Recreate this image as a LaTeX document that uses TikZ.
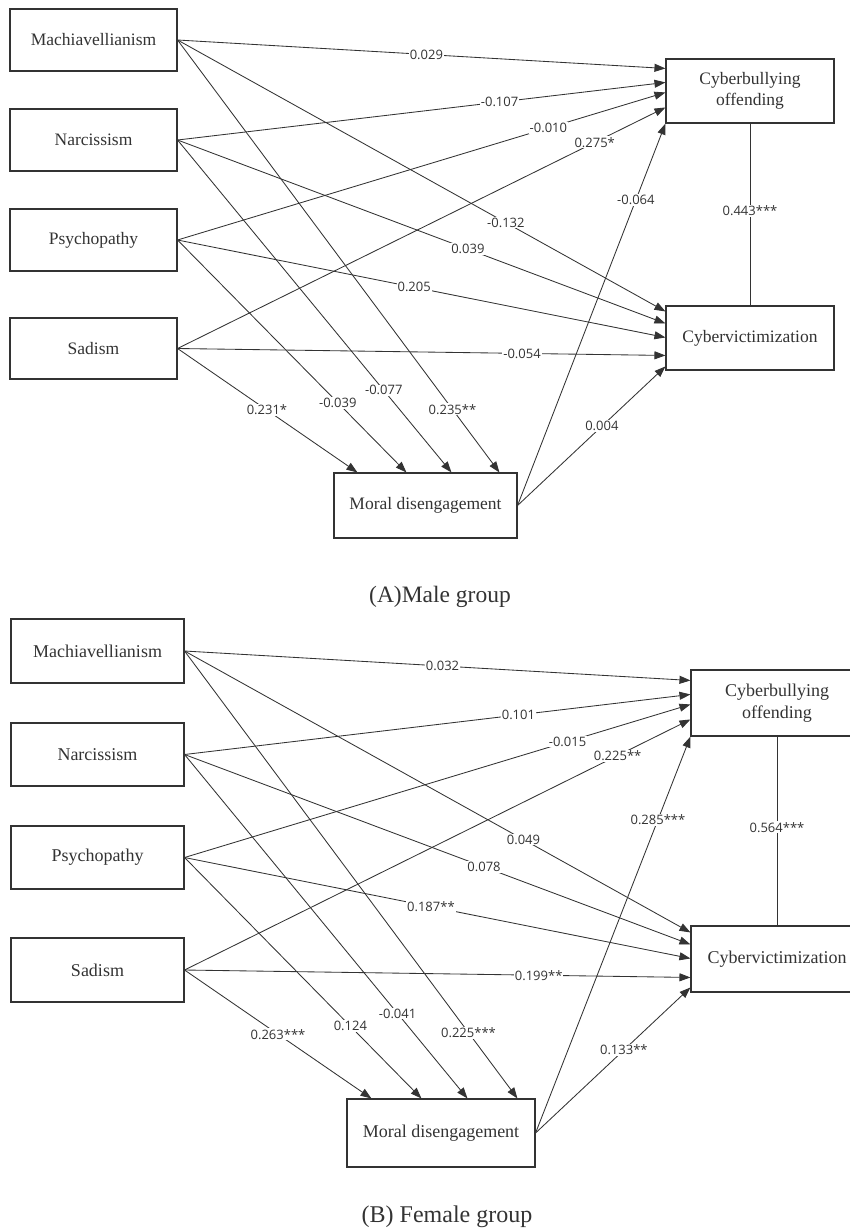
\documentclass[tikz,border=0pt]{standalone}
\usepackage{fontspec}
\setmainfont{Liberation Serif}
\newfontfamily\lblfont{Open Sans}
\usetikzlibrary{arrows.meta,calc}
\definecolor{ink}{HTML}{333333}
\tikzset{
  box/.style={draw=ink,line width=1.1pt,inner sep=0pt,text=ink,align=center},
  boxA/.style={box,minimum width=167pt,minimum height=62pt,font=\fontsize{17.5}{21}\selectfont},
  boxB/.style={box,minimum width=173pt,minimum height=64pt,font=\fontsize{18}{21.7}\selectfont},
  arr/.style={draw=ink,line width=0.85pt,-{Triangle[length=11pt,width=8pt]}},
  plain/.style={draw=ink,line width=0.85pt},
  lbl/.style={fill=white,inner sep=1pt,text=ink,font=\lblfont\fontsize{13}{15}\selectfont},
  captext/.style={text=ink,font=\fontsize{23.5}{28}\selectfont,anchor=base}
}
\begin{document}
\begin{tikzpicture}[x=1pt,y=-1pt]
\useasboundingbox (0,0) rectangle (850,1229);
\clip (0,0) rectangle (850,1229);

% ---------------- (A) Male group ----------------
\node[boxA] (mA) at (93.5,40) {Machiavellianism};
\node[boxA] (nA) at (93.5,140) {Narcissism};
\node[boxA] (pA) at (93.5,240) {Psychopathy};
\node[boxA,minimum height=61pt] (sA) at (93.5,348.5) {Sadism};
\node[boxA,minimum width=183pt,minimum height=65pt] (mdA) at (425.5,505.5) {Moral disengagement};
\node[boxA,minimum width=168pt,minimum height=64pt] (coA) at (750,91) {Cyberbullying\\offending};
\node[boxA,minimum width=168pt,minimum height=64pt] (cvA) at (750,338) {Cybervictimization};

\coordinate (coA1) at ($(coA.north west)+(0,10)$);
\coordinate (coA2) at ($(coA.north west)+(0,24)$);
\coordinate (coA3) at ($(coA.north west)+(0,34)$);
\coordinate (coA4) at ($(coA.north west)+(0,49)$);
\coordinate (coA5) at (coA.south west);
\coordinate (cvA1) at ($(cvA.north west)+(0,6)$);
\coordinate (cvA2) at ($(cvA.north west)+(0,18)$);
\coordinate (cvA3) at ($(cvA.north west)+(0,32)$);
\coordinate (cvA4) at ($(cvA.north west)+(0,50)$);
\coordinate (cvA5) at ($(cvA.north west)+(0,61)$);
\coordinate (mdA1) at ($(mdA.north west)+(24,0)$);
\coordinate (mdA2) at ($(mdA.north west)+(73,0)$);
\coordinate (mdA3) at ($(mdA.north west)+(118,0)$);
\coordinate (mdA4) at ($(mdA.north west)+(166,0)$);

\newcommand\edgesA{mA/coA1/0.51/0.029, nA/coA2/0.66/-0.107, pA/coA3/0.76/-0.010, sA/coA4/0.855/0.275*,
  mdA/coA5/0.80/-0.064,
  mA/cvA1/0.673/-0.132, nA/cvA2/0.595/0.039, pA/cvA3/0.485/0.205, sA/cvA4/0.706/-0.054,
  mdA/cvA5/0.57/0.004,
  sA/mdA1/0.497/0.231*, pA/mdA2/0.70/-0.039, nA/mdA3/0.753/-0.077, mA/mdA4/0.854/0.235**}

\foreach \s/\t/\p/\l in \edgesA { \draw[arr] (\s.east) -- (\t); }
\draw[plain] (coA.south) -- (cvA.north);
\foreach \s/\t/\p/\l in \edgesA { \path (\s.east) -- node[lbl,pos=\p] {\l} (\t); }
\path (coA.south) -- node[lbl,pos=0.48] {0.443***} (cvA.north);

\node[captext] (capA) at (440,602) {(A)Male group};

% ---------------- (B) Female group ----------------
\node[boxB] (mB) at (97.5,651) {Machiavellianism};
\node[boxB,minimum height=63pt] (nB) at (97.5,754.5) {Narcissism};
\node[boxB,minimum height=63pt] (pB) at (97.5,857.5) {Psychopathy};
\node[boxB] (sB) at (97.5,970) {Sadism};
\node[boxB,minimum width=188pt,minimum height=68pt] (mdB) at (441,1133) {Moral disengagement};
\node[boxB,minimum width=172pt,minimum height=66pt] (coB) at (777,703) {Cyberbullying\\offending};
\node[boxB,minimum width=172pt,minimum height=66pt] (cvB) at (777,959) {Cybervictimization};

\coordinate (coB1) at ($(coB.north west)+(0,11)$);
\coordinate (coB2) at ($(coB.north west)+(0,25)$);
\coordinate (coB3) at ($(coB.north west)+(0,35)$);
\coordinate (coB4) at ($(coB.north west)+(0,50)$);
\coordinate (coB5) at (coB.south west);
\coordinate (cvB1) at ($(cvB.north west)+(0,7)$);
\coordinate (cvB2) at ($(cvB.north west)+(0,19)$);
\coordinate (cvB3) at ($(cvB.north west)+(0,33)$);
\coordinate (cvB4) at ($(cvB.north west)+(0,52)$);
\coordinate (cvB5) at ($(cvB.north west)+(0,62)$);
\coordinate (mdB1) at ($(mdB.north west)+(25,0)$);
\coordinate (mdB2) at ($(mdB.north west)+(75,0)$);
\coordinate (mdB3) at ($(mdB.north west)+(121,0)$);
\coordinate (mdB4) at ($(mdB.north west)+(171,0)$);

\newcommand\edgesB{mB/coB1/0.51/0.032, nB/coB2/0.66/0.101, pB/coB3/0.757/-0.015, sB/coB4/0.856/0.225**,
  mdB/coB5/0.79/0.285***,
  mB/cvB1/0.67/0.049, nB/cvB2/0.592/0.078, pB/cvB3/0.487/0.187**, sB/cvB4/0.70/0.199**,
  mdB/cvB5/0.57/0.133**,
  sB/mdB1/0.50/0.263***, pB/mdB2/0.70/0.124, nB/mdB3/0.753/-0.041, mB/mdB4/0.853/0.225***}

\foreach \s/\t/\p/\l in \edgesB { \draw[arr] (\s.east) -- (\t); }
\draw[plain] (coB.south) -- (cvB.north);
\foreach \s/\t/\p/\l in \edgesB { \path (\s.east) -- node[lbl,pos=\p] {\l} (\t); }
\path (coB.south) -- node[lbl,pos=0.48] {0.564***} (cvB.north);

\node[captext,font=\fontsize{24}{28}\selectfont] (capB) at (447,1222) {(B) Female group};
\end{tikzpicture}
\end{document}
